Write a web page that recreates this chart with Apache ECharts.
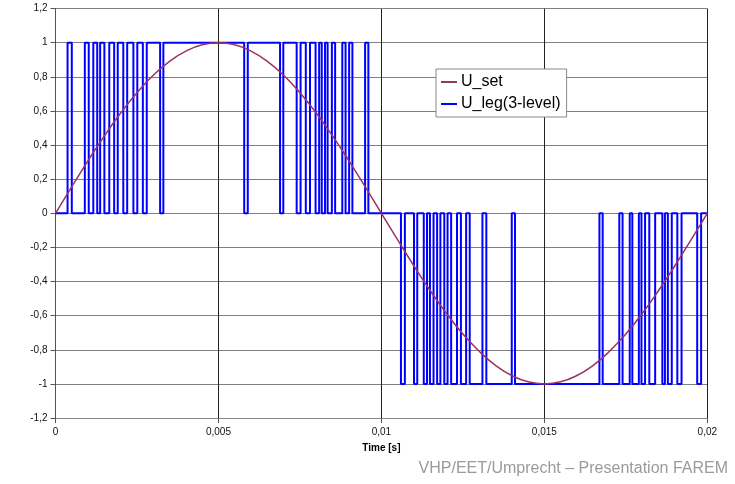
<!DOCTYPE html>
<html>
<head>
<meta charset="utf-8">
<script src="https://cdn.jsdelivr.net/npm/echarts@6/dist/echarts.min.js"></script>
<style>
  html, body { margin: 0; padding: 0; background: #fff; }
  #chart { width: 735px; height: 484px; }
</style>
</head>
<body>
<div id="chart"></div>
<script>
// U_set: sine reference, read every 0.5 ms
var uSetTime = [0, 0.0005, 0.001, 0.0015, 0.002, 0.0025, 0.003, 0.0035, 0.004, 0.0045,
  0.005, 0.0055, 0.006, 0.0065, 0.007, 0.0075, 0.008, 0.0085, 0.009, 0.0095,
  0.01, 0.0105, 0.011, 0.0115, 0.012, 0.0125, 0.013, 0.0135, 0.014, 0.0145,
  0.015, 0.0155, 0.016, 0.0165, 0.017, 0.0175, 0.018, 0.0185, 0.019, 0.0195, 0.02];
var uSetValue = [0, 0.156, 0.309, 0.454, 0.588, 0.707, 0.809, 0.891, 0.951, 0.988,
  1, 0.988, 0.951, 0.891, 0.809, 0.707, 0.588, 0.454, 0.309, 0.156,
  0, -0.156, -0.309, -0.454, -0.588, -0.707, -0.809, -0.891, -0.951, -0.988,
  -1, -0.988, -0.951, -0.891, -0.809, -0.707, -0.588, -0.454, -0.309, -0.156, 0];

// U_leg: switching instants and the level held after each one
var uLegTime = [0,
  0.00037, 0.00050, 0.00090, 0.00102, 0.00116, 0.00128, 0.00137, 0.00150, 0.00165, 0.00180,
  0.00191, 0.00208, 0.00220, 0.00239, 0.00251, 0.00268, 0.00280, 0.00321, 0.00331,
  0.00579, 0.00590, 0.00689, 0.00699,
  0.00740, 0.00752, 0.00768, 0.00781, 0.00798, 0.00809, 0.00817, 0.00827, 0.00835, 0.00848,
  0.00858, 0.00880, 0.00890, 0.00901, 0.00911, 0.00950, 0.00960,
  0.01060, 0.01072, 0.01100, 0.01110, 0.01130, 0.01140, 0.01149, 0.01160, 0.01171, 0.01181,
  0.01193, 0.01203, 0.01214, 0.01232, 0.01244, 0.01260, 0.01271, 0.01310, 0.01322, 0.01400, 0.01410,
  0.01669, 0.01679, 0.01730, 0.01740, 0.01762, 0.01770, 0.01790, 0.01798, 0.01809, 0.01822,
  0.01840, 0.01862, 0.01870, 0.01879, 0.01891, 0.01908, 0.01921, 0.01969, 0.01981,
  0.02];
var uLegLevel = [0,
  1, 0, 1, 0, 1, 0, 1, 0, 1, 0,
  1, 0, 1, 0, 1, 0, 1, 0, 1,
  0, 1, 0, 1,
  0, 1, 0, 1, 0, 1, 0, 1, 0, 1,
  0, 1, 0, 1, 0, 1, 0,
  -1, 0, -1, 0, -1, 0, -1, 0, -1, 0,
  -1, 0, -1, 0, -1, 0, -1, 0, -1, 0, -1,
  0, -1, 0, -1, 0, -1, 0, -1, 0, -1,
  0, -1, 0, -1, 0, -1, 0, -1, 0,
  0];

var xTicks = [0, 0.005, 0.01, 0.015, 0.02];

function comma(v) {
  return String(+(+v).toFixed(4)).replace('.', ',');
}

var setData = uSetTime.map(function (t, i) { return [t, uSetValue[i]]; });
var legData = uLegTime.map(function (t, i) { return [t, uLegLevel[i]]; });

var chart = echarts.init(document.getElementById('chart'));
chart.setOption({
  animation: false,
  textStyle: { fontFamily: 'Liberation Sans, Arial, sans-serif' },
  grid: { left: 55.5, right: 27.7, top: 8.6, bottom: 66 },
  legend: {
    orient: 'vertical',
    left: 436,
    top: 69,
    padding: [5, 6, 5, 5],
    itemGap: 6,
    itemWidth: 16,
    itemHeight: 2,
    icon: 'rect',
    backgroundColor: '#fff',
    borderColor: '#888',
    borderWidth: 1,
    textStyle: { fontSize: 16, color: '#000', padding: [0, 0, 0, -1] },
    data: ['U_set', 'U_leg(3-level)']
  },
  xAxis: {
    type: 'value',
    min: xTicks[0],
    max: xTicks[xTicks.length - 1],
    interval: 0.005,
    name: 'Time [s]',
    nameLocation: 'middle',
    nameGap: 25,
    nameTextStyle: { fontSize: 10, fontWeight: 'bold', color: '#000' },
    axisLine: { onZero: false, lineStyle: { color: '#888', width: 1 } },
    axisTick: { show: true, length: 5, lineStyle: { color: '#555' } },
    axisLabel: { fontSize: 10, color: '#111', margin: 9, formatter: comma },
    splitLine: { show: true, lineStyle: { color: '#222', width: 1 } }
  },
  yAxis: {
    type: 'value',
    min: -1.2,
    max: 1.2,
    interval: 0.2,
    axisLine: { show: true, onZero: false, lineStyle: { color: '#555', width: 1 } },
    axisTick: { show: true, length: 5, lineStyle: { color: '#555' } },
    axisLabel: { fontSize: 10, color: '#111', margin: 8, formatter: comma },
    splitLine: { show: true, lineStyle: { color: '#808080', width: 1 } }
  },
  series: [
    {
      name: 'U_set',
      type: 'line',
      data: setData,
      smooth: true,
      showSymbol: false,
      z: 3,
      itemStyle: { color: '#993366' },
      lineStyle: { color: '#993366', width: 1.5 }
    },
    {
      name: 'U_leg(3-level)',
      type: 'line',
      data: legData,
      step: 'end',
      showSymbol: false,
      z: 2,
      itemStyle: { color: '#0000ff' },
      lineStyle: { color: '#0000ff', width: 2 }
    }
  ],
  graphic: [
    {
      type: 'text',
      right: 7,
      top: 461,
      style: {
        text: 'VHP/EET/Umprecht \u2013 Presentation FAREM',
        fill: '#9a9a9a',
        fontSize: 16,
        fontFamily: 'Liberation Sans, Arial, sans-serif'
      }
    }
  ]
});
</script>
</body>
</html>
